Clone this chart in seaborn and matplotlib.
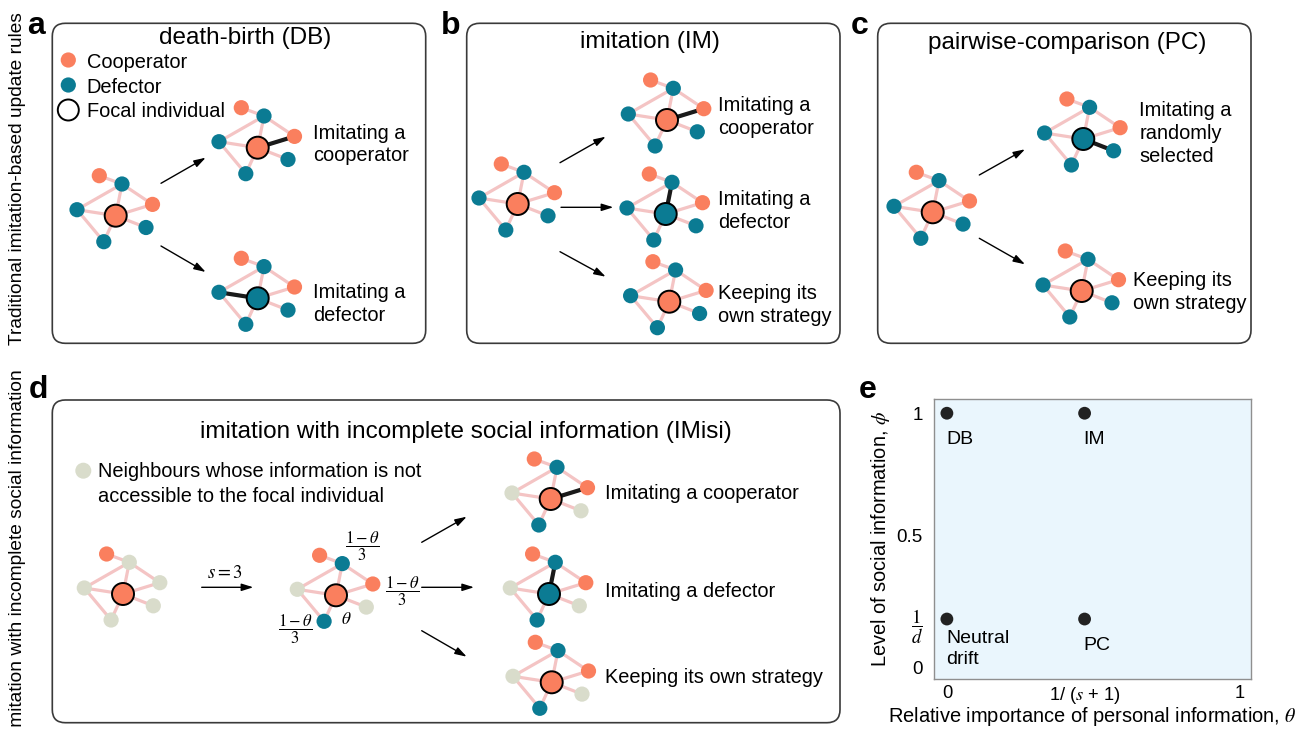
import numpy as np
import pandas as pd
import matplotlib
matplotlib.use('Agg')
import matplotlib.pyplot as plt
from matplotlib.patches import FancyBboxPatch, Circle
import seaborn as sns

# ---------------- data ----------------
rule_labels = ['DB', 'IM', 'Neutral\ndrift', 'PC']
theta_vals = [0.0, 0.47, 0.0, 0.47]
phi_vals = [1.0, 1.0, 0.19, 0.19]
x_tick_vals = [0.0, 0.47, 1.0]
x_tick_labels = ['0', '1/ ($s$ + 1)', '1']
y_tick_vals = [0.0, 0.19, 0.52, 1.0]
y_tick_labels = ['0', r'$\dfrac{1}{d}$', '0.5', '1']
x_axis_label = r'Relative importance of personal information, $\theta$'
y_axis_label = r'Level of social information, $\phi$'

panel_titles = ['death-birth (DB)', 'imitation (IM)', 'pairwise-comparison (PC)',
                'imitation with incomplete social information (IMisi)']
legend_labels = ['Cooperator', 'Defector', 'Focal individual']
grey_legend = ['Neighbours whose information is not', 'accessible to the focal individual']
row_labels = ['Traditional imitation-based update rules',
              'Imitation with incomplete social information']
outcome_a = ['Imitating a\ncooperator', 'Imitating a\ndefector']
outcome_b = ['Imitating a\ncooperator', 'Imitating a\ndefector', 'Keeping its\nown strategy']
outcome_c = ['Imitating a\nrandomly\nselected', 'Keeping its\nown strategy']
outcome_d = ['Imitating a cooperator', 'Imitating a defector', 'Keeping its own strategy']

# network states: neighbours (TL, top, right, left, right-low, bottom), focal, highlighted neighbour
net_states = {
    'a0': ('CDCDDD', 'C', None), 'a1': ('CDCDDD', 'C', 2), 'a2': ('CDCDDD', 'D', 3),
    'b0': ('CDCDDD', 'C', None), 'b1': ('CDCDDD', 'C', 2), 'b2': ('CDCDDD', 'D', 1),
    'b3': ('CDCDDD', 'C', None),
    'c0': ('CDCDDD', 'C', None), 'c1': ('CDCDDD', 'D', 4), 'c2': ('CDCDDD', 'C', None),
    'd0': ('CGGGGG', 'C', None), 'd1': ('CDCGGD', 'C', None), 'd2': ('CDCGGD', 'C', 2),
    'd3': ('CDCGGD', 'D', 1), 'd4': ('CDCGGD', 'C', None),
}

# ---------------- layout / style ----------------
W, H = 1302, 729
COL = {'C': '#FA7F5E', 'D': '#0B7B93', 'G': '#D9DCCB'}
EDGE_COL = '#F4C4C4'
NODE_DX = [-16.4, 6.3, 36.8, -38.7, 30.3, -11.9]
NODE_DY = [-40.0, -31.7, -11.3, -6.0, 11.8, 26.0]
EDGES = [(0, 1), (1, 3), (1, -1), (1, 2), (3, -1), (3, 5), (5, -1), (-1, 2), (-1, 4)]
net_centers = {
    'a0': (115.7, 215.7), 'a1': (257.7, 147.7), 'a2': (257.7, 298.3),
    'b0': (517.7, 204.0), 'b1': (667.0, 120.0), 'b2': (665.7, 214.0), 'b3': (669.3, 301.7),
    'c0': (932.7, 212.3), 'c1': (1083.3, 139.0), 'c2': (1081.7, 291.0),
    'd0': (123.0, 594.0), 'd1': (336.0, 595.3), 'd2': (550.7, 499.0),
    'd3': (549.0, 594.0), 'd4': (551.7, 682.3),
}

sns.set_style('white')
plt.rcParams['font.family'] = ['Liberation Sans', 'DejaVu Sans']
plt.rcParams['mathtext.fontset'] = 'stix'
plt.rcParams['text.color'] = 'black'
plt.rcParams['axes.labelcolor'] = 'black'
plt.rcParams['xtick.labelcolor'] = 'black'
plt.rcParams['ytick.labelcolor'] = 'black'

FS = 14.4
TFS = 17.5

fig = plt.figure(figsize=(W / 100, H / 100), dpi=100)
ax0 = fig.add_axes([0, 0, 1, 1])
ax0.set_xlim(0, W)
ax0.set_ylim(H, 0)
ax0.axis('off')


def box(x0, y0, x1, y1):
    ax0.add_patch(FancyBboxPatch((x0, y0), x1 - x0, y1 - y0,
                                 boxstyle='round,pad=0,rounding_size=13',
                                 ec='#3a3a3a', fc='none', lw=1.2, zorder=0))


def network(key):
    cx, cy = net_centers[key]
    states, focal, hl = net_states[key]
    pts = [(cx + dx, cy + dy) for dx, dy in zip(NODE_DX, NODE_DY)]

    def p(i):
        return (cx, cy) if i == -1 else pts[i]
    for a, b in EDGES:
        (x0, y0), (x1, y1) = p(a), p(b)
        ax0.plot([x0, x1], [y0, y1], color=EDGE_COL, lw=2.3, zorder=1,
                 solid_capstyle='round')
    if hl is not None:
        x1, y1 = pts[hl]
        ax0.plot([cx, x1], [cy, y1], color='#1a1a1a', lw=3.0, zorder=2)
    for (x, y), s in zip(pts, states):
        ax0.add_patch(Circle((x, y), 7.6, fc=COL[s], ec='none', zorder=3))
    ax0.add_patch(Circle((cx, cy), 11.0, fc=COL[focal], ec='black', lw=1.4, zorder=4))


def arrow(x0, y0, x1, y1):
    ax0.annotate('', xy=(x1, y1), xytext=(x0, y0),
                 arrowprops=dict(arrowstyle='-|>,head_length=0.7,head_width=0.22',
                                 color='black', lw=1.0, shrinkA=0, shrinkB=0))


def txt(x, y, s, **kw):
    kw.setdefault('fontsize', FS)
    kw.setdefault('va', 'center')
    kw.setdefault('ha', 'left')
    ax0.text(x, y, s, **kw)


# boxes
box(52.3, 23.3, 425.7, 343.3)
box(466.7, 23.3, 840.0, 343.3)
box(877.7, 23.3, 1251.0, 343.3)
box(52.3, 400.0, 840.0, 722.7)

# panel letters
for (x, y), L in zip([(27, 34), (441, 34), (851, 34), (29, 398), (859, 398)], 'abcde'):
    ax0.text(x, y, L, fontsize=23, fontweight='bold', ha='left', va='baseline')

# row labels
ax0.text(18, 179, row_labels[0], rotation=90, ha='center', va='center', fontsize=13.8)
ax0.text(18, 369, row_labels[1], rotation=90, ha='center', va='top', fontsize=13.8)

# titles
txt(244.7, 37.5, panel_titles[0], ha='center', fontsize=TFS)
txt(650.0, 41.7, panel_titles[1], ha='center', fontsize=TFS)
txt(1066.7, 42.7, panel_titles[2], ha='center', fontsize=TFS)
txt(466.3, 431.7, panel_titles[3], ha='center', fontsize=TFS)

# legend panel a
ax0.add_patch(Circle((68.3, 60), 7.6, fc=COL['C'], ec='none'))
ax0.add_patch(Circle((68.3, 85), 7.6, fc=COL['D'], ec='none'))
ax0.add_patch(Circle((68.3, 110), 10.5, fc='none', ec='black', lw=1.4))
for y, s in zip([62, 87, 111], legend_labels):
    txt(86.7, y, s)

# legend panel d
ax0.add_patch(Circle((83.3, 470.7), 8.0, fc=COL['G'], ec='none'))
txt(97.7, 471.7, grey_legend[0])
txt(97.7, 496.7, grey_legend[1])

# networks
for k in net_centers:
    network(k)

# arrows
arrow(161, 183.3, 205.7, 157.7)
arrow(161, 246.0, 205.7, 272.0)
arrow(560, 162.7, 605.7, 136.7)
arrow(561, 207.3, 613.3, 207.3)
arrow(560, 251.7, 605.7, 276.7)
arrow(979.3, 175.0, 1025.0, 149.3)
arrow(979.3, 238.3, 1025.0, 264.3)
arrow(201.7, 587.3, 253.3, 587.3)
arrow(421.7, 542.3, 466.7, 516.7)
arrow(421.7, 587.3, 474.0, 587.3)
arrow(421.7, 630.7, 466.7, 656.7)

# outcome texts
txt(312.7, 144.5, outcome_a[0], linespacing=1.25)
txt(312.7, 303.7, outcome_a[1], linespacing=1.25)
txt(718.3, 117.2, outcome_b[0], linespacing=1.25)
txt(718.3, 211.3, outcome_b[1], linespacing=1.25)
txt(718.3, 304.7, outcome_b[2], linespacing=1.25)
txt(1139.3, 133.5, outcome_c[0], linespacing=1.25)
txt(1132.7, 291.7, outcome_c[1], linespacing=1.25)
for y, s in zip([493.3, 591.7, 677.7], outcome_d):
    txt(605.0, y, s)

# maths annotations panel d
txt(225.0, 574.0, r'$s=3$', ha='center', fontsize=13.5)
frac = r'$\dfrac{1-\theta}{3}$'
txt(362.3, 546.0, frac, ha='center', fontsize=12)
txt(402.7, 591.0, frac, ha='center', fontsize=12)
txt(295.0, 629.5, frac, ha='center', fontsize=12)
txt(346.0, 619.3, r'$\theta$', ha='center', fontsize=12.5)

# ---------------- panel e (seaborn scatter) ----------------
ax_e = fig.add_axes([934 / W, (H - 679) / H, 317 / W, 280 / H])
df = pd.DataFrame({'theta': theta_vals, 'phi': phi_vals, 'rule': rule_labels})
sns.scatterplot(data=df, x='theta', y='phi', ax=ax_e, s=85, color='#222222',
                edgecolor='none', zorder=3, clip_on=False, legend=False)
ax_e.set_facecolor('#EAF6FD')
for sp in ax_e.spines.values():
    sp.set_color('#8f8f8f')
    sp.set_linewidth(1.0)
ax_e.set_xlim(-0.044, 1.038)
ax_e.set_ylim(-0.046, 1.056)
ax_e.set_xticks(x_tick_vals)
ax_e.set_xticklabels(x_tick_labels)
ax_e.set_yticks(y_tick_vals)
ax_e.set_yticklabels(y_tick_labels)
ax_e.tick_params(axis='x', direction='in', length=4, width=1, color='#9a9a9a',
                 labelsize=13.2, pad=4)
ax_e.tick_params(axis='y', direction='out', length=4, width=1, color='#9a9a9a',
                 labelsize=13.5, pad=4)
ax_e.set_xlabel(x_axis_label, fontsize=FS)
ax_e.set_ylabel(y_axis_label, fontsize=FS, labelpad=3)
ax_e.xaxis.set_label_coords(0.5, -0.133)
ax_e.xaxis.label.set_va('center')
ax_e.grid(False)
for t, p, lab in zip(theta_vals, phi_vals, rule_labels):
    if '\n' in lab:
        ax_e.text(t - 0.003, p - 0.045, lab, fontsize=14, ha='left', va='top',
                  linespacing=1.25)
    else:
        ax_e.text(t - 0.003, p - 0.105, lab, fontsize=14, ha='left', va='center')

fig.savefig('out.png', dpi=100)
